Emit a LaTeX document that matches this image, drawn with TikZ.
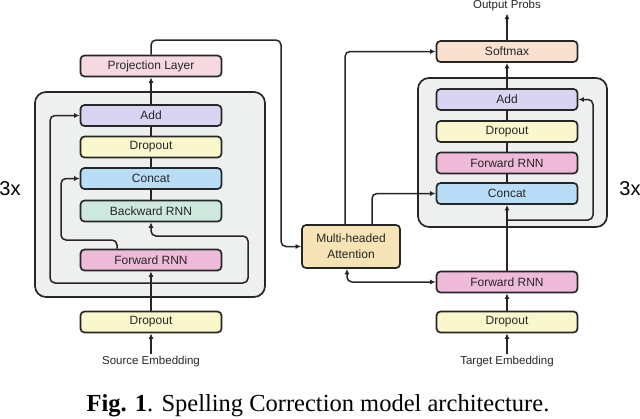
\documentclass[tikz,border=0pt]{standalone}
\usepackage{fontspec}
\setmainfont{Liberation Sans}
\newfontfamily\captionfont{Liberation Serif}
\usetikzlibrary{arrows.meta}

\definecolor{linecol}{HTML}{262626}
\definecolor{stackgray}{HTML}{EEEFEF}
\definecolor{projpink}{HTML}{F6D9E0}
\definecolor{addlav}{HTML}{D9D4F1}
\definecolor{dropyel}{HTML}{FBF7CD}
\definecolor{catblue}{HTML}{B9DDF7}
\definecolor{bwdgreen}{HTML}{CFE8DE}
\definecolor{fwdpink}{HTML}{EFB9D9}
\definecolor{softpeach}{HTML}{F9E0CF}
\definecolor{attnyel}{HTML}{F6E3B6}

\tikzset{
    layer/.style={draw=linecol, line width=1.7pt, rounded corners=4pt, minimum width=141pt, minimum height=21pt, inner sep=0pt, text=linecol, font=\fontsize{12}{16}\selectfont},
    stack/.style={draw=linecol, fill=stackgray, line width=1.7pt, rounded corners=11pt, inner sep=0pt},
    tag/.style={inner sep=2pt, text=linecol, font=\fontsize{11.5}{14}\selectfont},
    rep/.style={font=\fontsize{20}{24}\selectfont},
    flow/.style={draw=linecol, line width=1.5pt, rounded corners=5pt},
    arr/.style={flow, -{Latex[length=5.5pt,width=5pt]}},
    biarr/.style={flow, {Latex[length=5.5pt,width=5pt]}-{Latex[length=5.5pt,width=5pt]}}
}

\begin{document}
\begin{tikzpicture}[x=1pt, y=-1pt]
            \useasboundingbox (0,0) rectangle (640,418);

            \node[stack, minimum width=230pt, minimum height=205pt] (encstack) at (150,194.5) {};
            \node[stack, minimum width=189pt, minimum height=149pt] (decstack) at (512.5,152.5) {};

            \node[layer, fill=projpink] (proj) at (151,66) {Projection Layer};
            \node[layer, fill=addlav] (encadd) at (151,115.5) {Add};
            \node[layer, fill=dropyel] (encdrop) at (151,147) {Dropout};
            \node[layer, fill=catblue] (enccat) at (151,178.5) {Concat};
            \node[layer, fill=bwdgreen] (encbwd) at (151,211) {Backward RNN};
            \node[layer, fill=fwdpink] (encfwd) at (151,260) {Forward RNN};
            \node[layer, fill=dropyel] (srcdrop) at (151,322) {Dropout};
            \node[tag] (srcemb) at (151,362) {Source Embedding};

            \node[tag] (outprobs) at (507,6) {Output Probs};
            \node[layer, fill=softpeach] (softmax) at (507,51.5) {Softmax};
            \node[layer, fill=addlav] (decadd) at (507,99.5) {Add};
            \node[layer, fill=dropyel] (decdrop) at (507,131.5) {Dropout};
            \node[layer, fill=fwdpink] (decfwd) at (507,163) {Forward RNN};
            \node[layer, fill=catblue] (deccat) at (507,193.5) {Concat};
            \node[layer, fill=fwdpink] (tgtfwd) at (507,282) {Forward RNN};
            \node[layer, fill=dropyel] (tgtdrop) at (507,322) {Dropout};
            \node[tag] (tgtemb) at (507,362) {Target Embedding};

            \node[layer, fill=attnyel, minimum width=98pt, minimum height=43pt, align=center] (attn) at (351,246.5) {Multi-headed\\Attention};

            \node[rep] (encrep) at (10,189) {3x};
            \node[rep] (decrep) at (630,189) {3x};

            \coordinate (encsplit) at (151,283);
            \coordinate (decsplit) at (507,220);

            \draw[arr] (srcemb) -- (srcdrop);
            \draw[arr] (srcdrop) -- (encfwd);
            \draw[arr] (encsplit) -| (50,115.5) -- (encadd.west);
            \draw[arr] (encsplit) -| (248,236) -| (encbwd.south);
            \draw[arr] ([xshift=-34pt]encfwd.north) |- (61,240) |- (enccat.west);
            \draw[flow] (encbwd) -- (enccat);
            \draw[flow] (enccat) -- (encdrop);
            \draw[flow] (encdrop) -- (encadd);
            \draw[arr] (encadd) -- (proj);
            \draw[arr] (proj.north) |- (281,40) |- (attn.west);

            \draw[arr] ([xshift=-6pt]attn.north) |- (softmax.west);
            \draw[arr] ([xshift=21pt]attn.north) |- (deccat.west);
            \draw[biarr] ([xshift=-4pt]attn.south) |- (tgtfwd.west);

            \draw[arr] (tgtemb) -- (tgtdrop);
            \draw[arr] (tgtdrop) -- (tgtfwd);
            \draw[arr] (tgtfwd) -- (deccat);
            \draw[arr] (decsplit) -| (593,99.5) -- (decadd.east);
            \draw[flow] (deccat) -- (decfwd);
            \draw[flow] (decfwd) -- (decdrop);
            \draw[flow] (decdrop) -- (decadd);
            \draw[arr] (decadd) -- (softmax);
            \draw[arr] (softmax) -- (outprobs);

            \node[anchor=base, font=\captionfont\fontsize{24.5}{28}\selectfont] (caption) at (318,411) {\textbf{Fig. 1}. Spelling Correction model architecture.};
        \end{tikzpicture}
\end{document}
